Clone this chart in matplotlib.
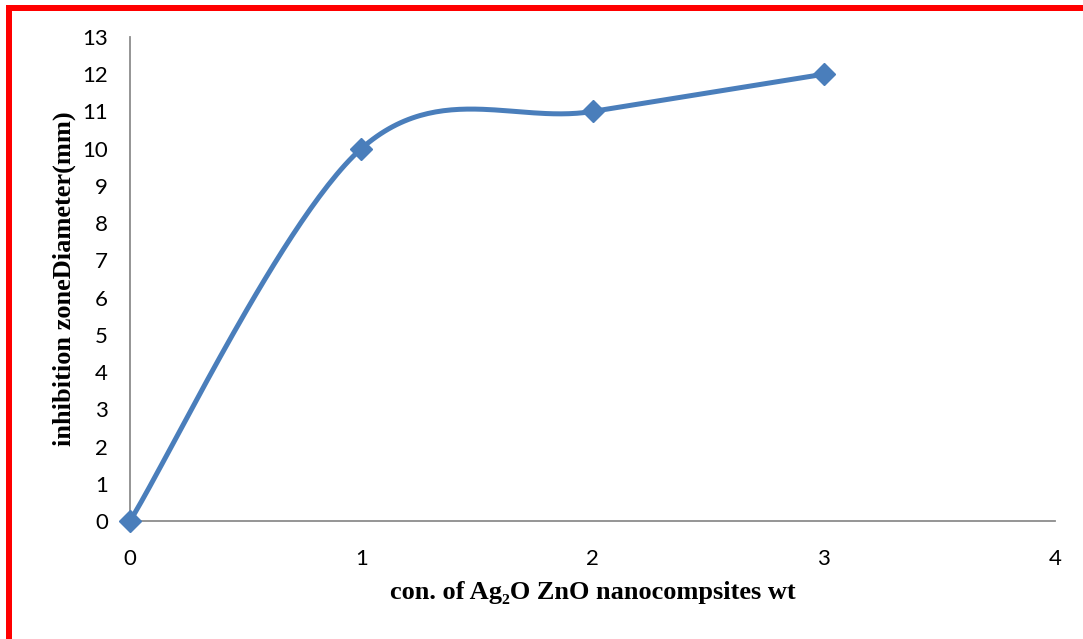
import matplotlib
matplotlib.use('Agg')
import matplotlib.pyplot as plt
import numpy as np
from matplotlib.patches import Rectangle

# data
conc = [0, 1, 2, 3]
diameter = [0, 10, 11, 12]
x_ticks = [0, 1, 2, 3, 4]
y_ticks = list(range(0, 14))

LINE_COLOR = '#4a7ebb'


def excel_smooth(xs, ys, n=60):
    # Catmull-Rom style bezier segments, like Excel's smoothed line
    p = np.column_stack([xs, ys]).astype(float)
    out = [p[0]]
    t = np.linspace(0, 1, n)[1:, None]
    for i in range(len(p) - 1):
        prev = p[i - 1] if i > 0 else p[i]
        nxt = p[i + 2] if i + 2 < len(p) else p[i + 1]
        c1 = p[i] + (p[i + 1] - prev) / 6
        c2 = p[i + 1] - (nxt - p[i]) / 6
        seg = ((1 - t) ** 3 * p[i] + 3 * (1 - t) ** 2 * t * c1
               + 3 * (1 - t) * t ** 2 * c2 + t ** 3 * p[i + 1])
        out.extend(seg)
    out = np.array(out)
    return out[:, 0], out[:, 1]


fig = plt.figure(figsize=(10.83, 6.39), dpi=100)
ax = fig.add_axes([130 / 1083, 1 - 521 / 639, 925 / 1083, 484 / 639])

sx, sy = excel_smooth(conc, diameter)
ax.plot(sx, sy, color=LINE_COLOR, linewidth=3.6, solid_capstyle='round', zorder=3)
ax.plot(conc, diameter, linestyle='none', marker='D', markersize=11,
        color=LINE_COLOR, zorder=4, clip_on=False)

ax.set_xlim(0, 4)
ax.set_ylim(0, 13)
ax.set_xticks(x_ticks)
ax.set_yticks(y_ticks)
for s in ['top', 'right']:
    ax.spines[s].set_visible(False)
for s in ['left', 'bottom']:
    ax.spines[s].set_color('#8c8c8c')
    ax.spines[s].set_linewidth(1.3)
ax.tick_params(length=0, labelsize=16)
ax.tick_params(axis='x', pad=20)
ax.tick_params(axis='y', pad=16)
for lab in ax.get_xticklabels() + ax.get_yticklabels():
    lab.set_family('Lato')

ax.set_xlabel('con. of Ag\u2082O ZnO nanocompsites wt', fontsize=19,
              fontweight='bold', family=['Liberation Serif', 'DejaVu Serif'])
ax.set_ylabel('inhibition zoneDiameter(mm)', fontsize=19,
              fontweight='bold', family=['Liberation Serif', 'DejaVu Serif'])
ax.xaxis.set_label_coords(0.5, -0.125)
ax.yaxis.set_label_coords(-0.058, 0.5)

# red frame on left and top
fig.add_artist(Rectangle((6 / 1083, 0), 6 / 1083, 1 - 5 / 639,
                         transform=fig.transFigure, color='#ff0000', lw=0))
fig.add_artist(Rectangle((6 / 1083, 1 - 11 / 639), 1, 6 / 639,
                         transform=fig.transFigure, color='#ff0000', lw=0))

fig.savefig('out.png', dpi=100, facecolor='white')
